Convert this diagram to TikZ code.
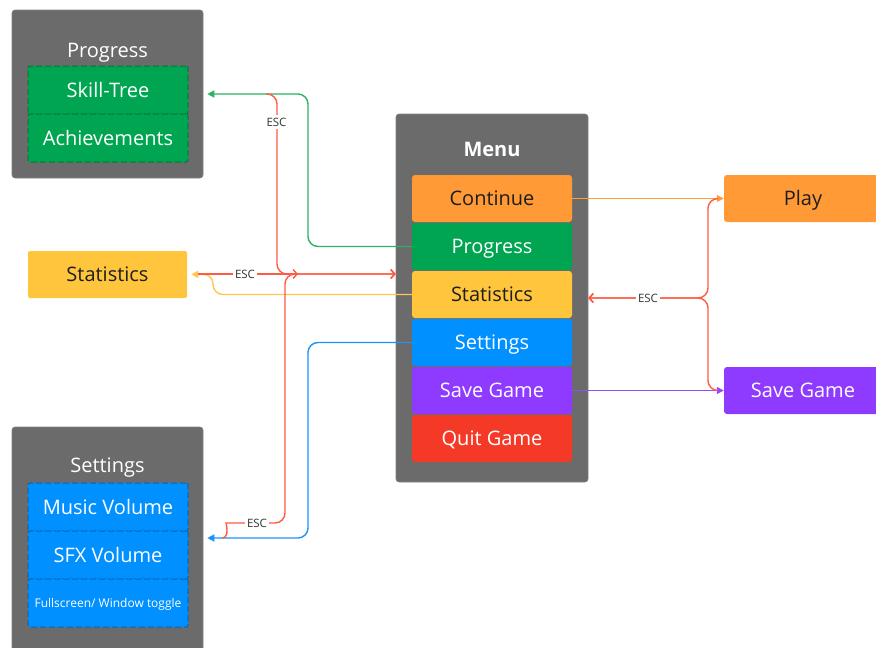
\documentclass[tikz,border=0pt]{standalone}
\usepackage{fontspec}
\setmainfont{Open Sans}
\usetikzlibrary{arrows.meta,calc}
\definecolor{panel}{HTML}{6B6B6B}
\definecolor{cOrange}{HTML}{FF9A36}
\definecolor{cGreen}{HTML}{00A552}
\definecolor{cYellow}{HTML}{FFC53D}
\definecolor{cBlue}{HTML}{0090FF}
\definecolor{cPurple}{HTML}{8F3BFF}
\definecolor{cRed}{HTML}{F43A27}
\definecolor{dGreen}{HTML}{00773A}
\definecolor{dBlue}{HTML}{0067B8}
\definecolor{lGreen}{HTML}{2DB162}
\definecolor{lRed}{HTML}{FF5A42}
\definecolor{lYellow}{HTML}{FFC84A}
\definecolor{lBlue}{HTML}{1C93F5}
\definecolor{lOrange}{HTML}{FF9D3C}
\definecolor{lPurple}{HTML}{9848FF}
\definecolor{darktext}{HTML}{1E1E1E}
\definecolor{esctext}{HTML}{333333}
\tikzset{
  panelbox/.style={fill=panel, draw=panel!85!white, line width=0.6pt, rounded corners=3pt, inner sep=0pt},
  ptitle/.style={text=white, font=\fontsize{20}{22}\selectfont, inner sep=0pt, anchor=base},
  item/.style={rounded corners=3pt, minimum width=160pt, minimum height=47pt, inner sep=0pt, text height=14.3pt, text depth=0pt, font=\fontsize{20}{22}\selectfont},
  subitem/.style={rounded corners=2pt, minimum width=160pt, minimum height=48pt, inner sep=0pt, text height=14.3pt, text depth=0pt, dash pattern=on 6pt off 3pt, line width=1pt, font=\fontsize{20}{22}\selectfont, text=white},
  conn/.style={line width=1.4pt, rounded corners=10pt},
  filltip/.style={-{Triangle[length=7pt,width=7pt]}},
  opentip/.style={-{Straight Barb[length=4pt,width=9pt,line width=1.4pt]}},
  esc/.style={fill=white, text=esctext, font=\fontsize{11.5}{13}\selectfont, inner sep=2.5pt},
}
\begin{document}
\begin{tikzpicture}[x=1pt,y=-1pt]
\useasboundingbox (0,0) rectangle (876,648);
\clip (0,0) rectangle (876,648);
% Progress panel
\node[panelbox, minimum width=191pt, minimum height=168pt] (prog) at (107.5,94) {};
\node[ptitle] (progT) at (107.5,57) {Progress};
\node[subitem, fill=cGreen, draw=dGreen] (skill) at (108,90) {Skill-Tree};
\node[subitem, fill=cGreen, draw=dGreen] (ach) at (108,138) {Achievements};
% Statistics
\node[item, fill=cYellow, text=darktext, minimum width=159pt, rounded corners=2pt] (stats) at (107.5,274.5) {Statistics};
% Settings panel
\node[panelbox, minimum width=191pt, minimum height=240pt] (sett) at (107.5,547) {};
\node[ptitle] (settT) at (107.5,472) {Settings};
\node[subitem, fill=cBlue, draw=dBlue] (music) at (108,507) {Music Volume};
\node[subitem, fill=cBlue, draw=dBlue] (sfx) at (108,555) {SFX Volume};
\node[subitem, fill=cBlue, draw=dBlue, font=\fontsize{12}{13}\selectfont, text height=8.6pt] (full) at (108,603) {Fullscreen/ Window toggle};
% Menu panel
\node[panelbox, minimum width=192pt, minimum height=368pt] (menu) at (492,298) {};
\node[ptitle, font=\fontsize{20}{22}\selectfont\bfseries] (menuT) at (492,156) {Menu};
\node[item, fill=cOrange, text=darktext] (cont) at (492,198.5) {Continue};
\node[item, fill=cGreen, text=white] (mprog) at (492,246.5) {Progress};
\node[item, fill=cYellow, text=darktext] (mstats) at (492,294.5) {Statistics};
\node[item, fill=cBlue, text=white] (mset) at (492,342.5) {Settings};
\node[item, fill=cPurple, text=white] (msave) at (492,390.5) {Save Game};
\node[item, fill=cRed, text=white] (mquit) at (492,438.5) {Quit Game};
% Right targets
\node[item, fill=cOrange, text=darktext, minimum width=158pt] (play) at (803,198.5) {Play};
\node[item, fill=cPurple, text=white, minimum width=158pt] (save) at (803,390.5) {Save Game};
% coordinates
\coordinate (gcorner) at (308,94);
\coordinate (gend) at ([xshift=4pt]prog.east |- 0,94);
\coordinate (bcorner) at (308,538);
\coordinate (bend) at ([xshift=4pt]sett.east |- 0,538);
\coordinate (ycorner) at (213,274);
\coordinate (yend) at ([xshift=4pt]stats.east);
\coordinate (rAstart) at (266,94);
\coordinate (rAcorner) at (277,274);
\coordinate (rBstart) at (198,274);
\coordinate (rBend) at (298,274);
\coordinate (rCstart) at (222,538);
\coordinate (rCmid) at (236,523);
\coordinate (rCcorner) at (285,274);
\coordinate (menuW) at (menu.west |- 0,274);
\coordinate (rRstartT) at (718,198.5);
\coordinate (rRstartB) at (718,390.5);
\coordinate (rRcorner) at (708,298);
\coordinate (menuE) at (menu.east |- 0,298);
% connectors
\draw[conn, lGreen, filltip] (mprog.west) -| (gcorner) -- (gend);
\draw[conn, lYellow, filltip] (mstats.west) -| (ycorner) -- (yend);
\draw[conn, lBlue, filltip] (mset.west) -| (bcorner) -- (bend);
\draw[conn, lOrange, filltip] (cont.east) -- (play.west);
\draw[conn, lPurple, filltip] (msave.east) -- (save.west);
\draw[conn, lRed, opentip] (rAstart) -| (rAcorner) -- (menuW);
\draw[conn, lRed, opentip] (rBstart) -- (rBend);
\draw[conn, lRed, opentip] (rCstart) .. controls (230,538) and (226,523) .. (rCmid) -| (rCcorner) -- (menuW);
\draw[conn, lRed, opentip] (rRstartT) -| (rRcorner) -- (menuE);
\draw[conn, lRed, opentip] (rRstartB) -| (rRcorner) -- (menuE);
% ESC labels
\node[esc] (escA) at (276.5,122) {ESC};
\node[esc] (escB) at (245,274) {ESC};
\node[esc] (escC) at (257,523) {ESC};
\node[esc] (escR) at (648,298) {ESC};
\end{tikzpicture}
\end{document}
